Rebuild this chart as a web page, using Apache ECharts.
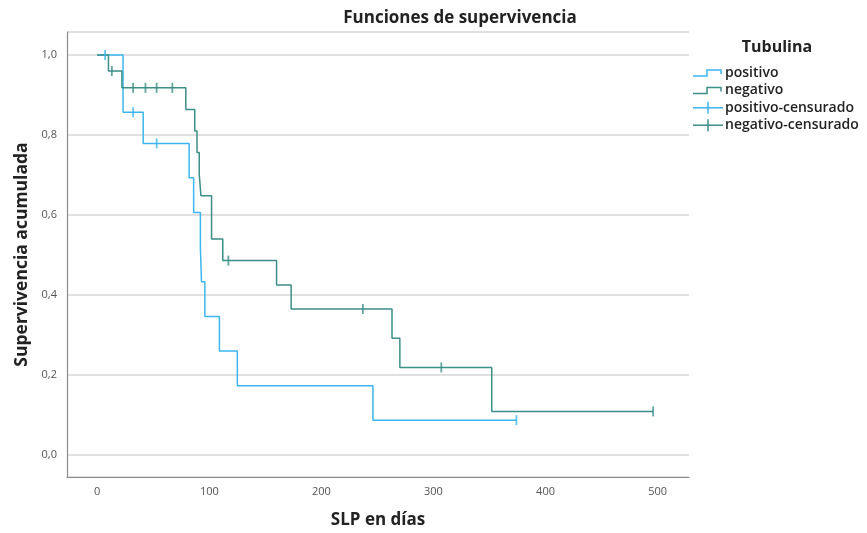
<!DOCTYPE html>
<html>
<head>
<meta charset="utf-8">
<script src="https://cdn.jsdelivr.net/npm/echarts@6/dist/echarts.min.js"></script>
<style>
  html, body { margin: 0; padding: 0; background: #fff; }
  #chart { width: 867px; height: 533px; }
</style>
</head>
<body>
<div id="chart"></div>
<script>
// Kaplan-Meier steps: event time (days) and cumulative survival after it
const positivoTimes = [0, 23, 41, 82, 86, 92, 93, 96, 109, 125, 246, 374];
const positivoSurv  = [1, 0.857, 0.779, 0.693, 0.606, 0.520, 0.433, 0.346, 0.260, 0.173, 0.087, 0.087];
const negativoTimes = [0, 10, 22, 79, 87, 89, 91, 92.5, 102, 112, 160, 173, 263, 270, 352, 496];
const negativoSurv  = [1, 0.96, 0.918, 0.864, 0.810, 0.756, 0.702, 0.648, 0.540, 0.486, 0.425, 0.365, 0.292, 0.219, 0.109, 0.109];

// Censored observations
const positivoCensTimes = [7, 32, 53, 374];
const positivoCensSurv  = [1, 0.857, 0.779, 0.087];
const negativoCensTimes = [13, 32, 43, 53, 67, 117, 237, 307, 496];
const negativoCensSurv  = [0.96, 0.918, 0.918, 0.918, 0.918, 0.486, 0.365, 0.219, 0.109];

const xTicks = [0, 100, 200, 300, 400, 500];
const yTicks = [0, 0.2, 0.4, 0.6, 0.8, 1.0];

const legendTitle = 'Tubulina';
const legendNames = ['positivo', 'negativo', 'positivo-censurado', 'negativo-censurado'];

const BLUE = '#3db5ee';
const TEAL = '#3b8f87';
const FONT = '"Open Sans", Lato, sans-serif';

const zip = (a, b) => a.map((v, i) => [v, b[i]]);

const chart = echarts.init(document.getElementById('chart'), null, { renderer: 'canvas' });

const gridL = 67, gridT = 32, gridR = 178, gridB = 56;

// legend drawn as step icons and censor ticks
const lgX = 693, lgY0 = 73, lgDy = 17.4;
const legendGraphics = [
  { type: 'text', x: 777, y: 47,
    style: { text: legendTitle, font: 'bold 16px ' + FONT, fill: '#222', align: 'center', verticalAlign: 'middle' } }
];
legendNames.forEach((name, i) => {
  const y = lgY0 + i * lgDy;
  const color = i % 2 === 0 ? BLUE : TEAL;
  if (i < 2) {
    legendGraphics.push({ type: 'polyline', shape: { points: [[lgX, y + 3], [lgX + 14, y + 3], [lgX + 14, y - 3], [lgX + 28, y - 3], [lgX + 28, y + 1]] },
      style: { stroke: color, lineWidth: 1.5, fill: null } });
  } else {
    legendGraphics.push({ type: 'line', shape: { x1: lgX, y1: y, x2: lgX + 30, y2: y }, style: { stroke: color, lineWidth: 1.5 } });
    legendGraphics.push({ type: 'line', shape: { x1: lgX + 15, y1: y - 6, x2: lgX + 15, y2: y + 6 }, style: { stroke: color, lineWidth: 1.5 } });
  }
  legendGraphics.push({ type: 'text', x: lgX + 32, y: y,
    style: { text: name, font: '600 14px ' + FONT, fill: '#222', verticalAlign: 'middle' } });
});

chart.setOption({
  animation: false,
  backgroundColor: '#fff',
  title: {
    text: 'Funciones de supervivencia',
    left: 455, top: 5, textAlign: 'center',
    textStyle: { fontFamily: FONT, fontWeight: 'bold', fontSize: 17, color: '#222' }
  },
  grid: { left: gridL, top: gridT, right: gridR, bottom: gridB, containLabel: false, outerBoundsMode: 'none' },
  xAxis: {
    type: 'value', min: -27, max: 528,
    name: 'SLP en días', nameLocation: 'middle', nameGap: 35,
    nameTextStyle: { fontFamily: FONT, fontWeight: 'bold', fontSize: 17, color: '#222' },
    axisLine: { show: true, onZero: false, lineStyle: { color: '#8a8a8a', width: 1.2 } },
    axisTick: { show: false },
    splitLine: { show: false },
    axisLabel: {
      fontFamily: FONT, fontSize: 11, color: '#555', margin: 9,
      customValues: xTicks,
      formatter: v => String(v)
    }
  },
  yAxis: {
    type: 'value', min: -0.055, max: 1.0575,
    name: 'Supervivencia acumulada', nameLocation: 'middle', nameGap: 36, nameRotate: 90,
    nameTextStyle: { fontFamily: FONT, fontWeight: 'bold', fontSize: 17.5, color: '#222' },
    axisLine: { show: true, onZero: false, lineStyle: { color: '#8a8a8a', width: 1.2 } },
    axisTick: { show: false },
    splitLine: { show: true, customValues: yTicks, lineStyle: { color: '#d6d6d6', width: 1.5 } },
    axisLabel: {
      fontFamily: FONT, fontSize: 11, color: '#555', margin: 10,
      customValues: yTicks,
      formatter: v => v.toFixed(1).replace('.', ',')
    }
  },
  graphic: legendGraphics,
  series: [
    { name: 'positivo', type: 'line', step: 'end', showSymbol: false,
      data: zip(positivoTimes, positivoSurv),
      lineStyle: { color: BLUE, width: 1.5 }, z: 3 },
    { name: 'negativo', type: 'line', step: 'end', showSymbol: false,
      data: zip(negativoTimes, negativoSurv),
      lineStyle: { color: TEAL, width: 1.5 }, z: 4 },
    { name: 'positivo-censurado', type: 'scatter', symbol: 'rect', symbolSize: [1.8, 10],
      data: zip(positivoCensTimes, positivoCensSurv),
      itemStyle: { color: BLUE }, z: 5 },
    { name: 'negativo-censurado', type: 'scatter', symbol: 'rect', symbolSize: [1.8, 10],
      data: zip(negativoCensTimes, negativoCensSurv),
      itemStyle: { color: TEAL }, z: 6 }
  ]
});
</script>
</body>
</html>
